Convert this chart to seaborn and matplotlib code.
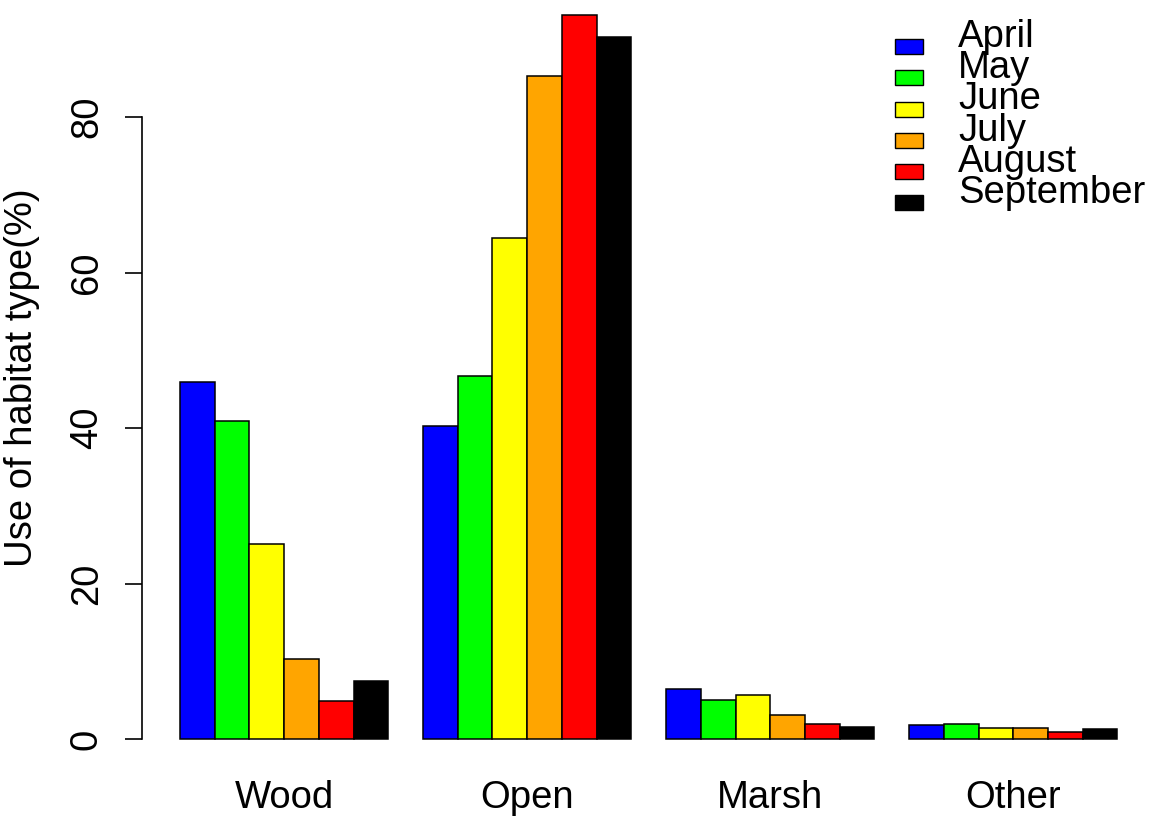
import matplotlib
matplotlib.use("Agg")
import matplotlib.pyplot as plt
from matplotlib.patches import Rectangle
import seaborn as sns
import pandas as pd

habitats = ["Wood", "Open", "Marsh", "Other"]
months = ["April", "May", "June", "July", "August", "September"]
colors = ["#0000FF", "#00FF00", "#FFFF00", "#FFA500", "#FF0000", "#000000"]

april = [45.9, 40.3, 6.5, 1.8]
may = [40.9, 46.7, 5.0, 1.9]
june = [25.1, 64.4, 5.7, 1.4]
july = [10.3, 85.3, 3.05, 1.4]
august = [4.9, 93.1, 1.9, 0.95]
september = [7.5, 90.3, 1.6, 1.25]

yticks = [0, 20, 40, 60, 80]
ylabel = "Use of habitat type(%)"

series = [april, may, june, july, august, september]
rows = []
for m, vals in zip(months, series):
    for h, v in zip(habitats, vals):
        rows.append({"habitat": h, "month": m, "value": v})
df = pd.DataFrame(rows)

sns.set_style("white")
plt.rcParams["font.family"] = ["Liberation Sans", "DejaVu Sans"]
plt.rcParams["text.color"] = "black"
plt.rcParams["axes.labelcolor"] = "black"
plt.rcParams["xtick.color"] = "black"
plt.rcParams["ytick.color"] = "black"
FS = 27.5

W, H = 1162, 818
fig = plt.figure(figsize=(W / 100, H / 100), dpi=100)
ax = fig.add_axes([142.4 / W, 50 / H, (1155 - 142.4) / W, (768 + 13.6) / H])

sns.barplot(data=df, x="habitat", y="value", hue="month", order=habitats,
            hue_order=months, palette=colors, width=6 / 7, gap=0,
            saturation=1, edgecolor="black", linewidth=1.1, errorbar=None,
            legend=False, ax=ax)

ymax = df["value"].max()
ax.set_ylim(-0.04 * ymax, ymax * 1.04)
ax.set_xlim(-0.5829, 3.5829)

for s in ["top", "right", "bottom"]:
    ax.spines[s].set_visible(False)
ax.spines["left"].set_bounds(0, 80)
ax.spines["left"].set_linewidth(1.2)
ax.spines["left"].set_color("black")

ax.set_yticks(yticks)
ax.set_yticklabels([str(t) for t in yticks], rotation=90, va="center",
                   fontsize=FS, color="black")
ax.tick_params(axis="y", length=12, width=1.2, color="black", pad=15,
               left=True)
ax.tick_params(axis="x", length=0, pad=9, labelsize=FS, labelcolor="black")
ax.set_xlabel("")
ax.set_ylabel(ylabel, fontsize=FS, color="black", va="center")
ax.yaxis.set_label_coords((22 - 142.4) / 1012.6, 0.5)

# legend
for i, (m, c) in enumerate(zip(months, colors)):
    yc = 46.7 + 31.2 * i
    fig.patches.append(Rectangle((895 / W, 1 - (yc + 7.5) / H), 28 / W, 15 / H,
                                 transform=fig.transFigure, facecolor=c,
                                 edgecolor="black", linewidth=1.0))
    fig.text(958 / W, 1 - (47 + 31.2 * i) / H, m, fontsize=FS,
             va="baseline", ha="left", color="black")

fig.savefig("out.png", dpi=100)
